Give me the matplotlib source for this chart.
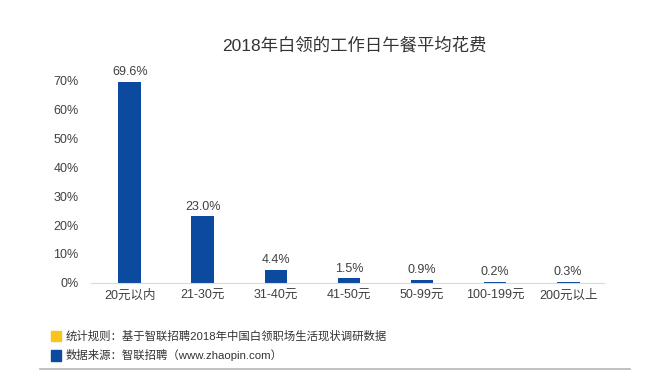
import matplotlib.pyplot as plt
from matplotlib.patches import Rectangle
from matplotlib.lines import Line2D

plt.rcParams['font.family'] = ['Liberation Sans', 'Noto Sans CJK SC', 'DejaVu Sans']

categories = ['20元以内', '21-30元', '31-40元', '41-50元', '50-99元', '100-199元', '200元以上']
values = [69.6, 23.0, 4.4, 1.5, 0.9, 0.2, 0.3]
yticks = [0, 10, 20, 30, 40, 50, 60, 70]
title = '2018年白领的工作日午餐平均花费'
note_rule = '统计规则：基于智联招聘2018年中国白领职场生活现状调研数据'
note_source = '数据来源：智联招聘（www.zhaopin.com）'

bar_color = '#0b4a9e'
yellow = '#f7c51e'
text_color = '#404040'

fig = plt.figure(figsize=(6.6, 3.73), dpi=100)
ax = fig.add_axes([0.1379, 0.2421, 0.7773, 0.618])

x = range(len(categories))
ax.bar(x, values, width=0.31, color=bar_color)
for xi, v in zip(x, values):
    ax.text(xi, v + 1.3, f'{v:.1f}%', ha='center', va='bottom',
            fontsize=9, color=text_color)

ax.set_xlim(-0.53, 6.49)
ax.set_ylim(0, 80)
ax.set_xticks(list(x))
ax.set_xticklabels(categories, fontsize=9, color=text_color)
ax.set_yticks(yticks)
ax.set_yticklabels([f'{t}%' for t in yticks], fontsize=9, color=text_color)
ax.tick_params(length=0, pad=5)
ax.tick_params(axis='y', pad=9)
for s in ['top', 'right', 'left']:
    ax.spines[s].set_visible(False)
ax.spines['bottom'].set_color('#d9d9d9')
ax.spines['bottom'].set_linewidth(0.8)

fig.text(354 / 660, 1 - 45 / 373, title, ha='center', va='center',
         fontsize=12.5, color='#333333')

# footer notes
fig.patches.append(Rectangle((51 / 660, 1 - 341 / 373), 10 / 660, 10 / 373,
                             transform=fig.transFigure, color=yellow))
fig.patches.append(Rectangle((51 / 660, 1 - 360.5 / 373), 10 / 660, 10.5 / 373,
                             transform=fig.transFigure, color=bar_color))
fig.text(66 / 660, 1 - 336 / 373, note_rule, ha='left', va='center',
         fontsize=8.2, color='#333333')
fig.text(66 / 660, 1 - 355 / 373, note_source, ha='left', va='center',
         fontsize=8.2, color='#333333')
fig.lines.append(Line2D([40 / 660, 630 / 660], [1 - 369 / 373, 1 - 369 / 373],
                        transform=fig.transFigure, color='#b5b5b5', lw=1.2))

fig.savefig('out.png', dpi=100, facecolor='white')
